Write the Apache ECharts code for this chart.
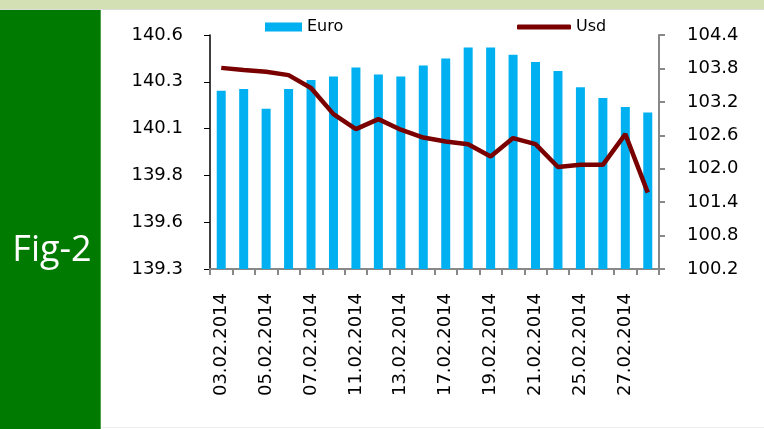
<!DOCTYPE html>
<html>
<head>
<meta charset="utf-8">
<script src="https://cdn.jsdelivr.net/npm/echarts@6/dist/echarts.min.js"></script>
<style>
  html, body { margin: 0; padding: 0; background: #fff; }
  #chart { width: 764px; height: 429px; }
</style>
</head>
<body>
<div id="chart"></div>
<script>
// trading days of February 2014
const dates = ['03.02.2014', '04.02.2014', '05.02.2014', '06.02.2014', '07.02.2014',
  '10.02.2014', '11.02.2014', '12.02.2014', '13.02.2014', '14.02.2014',
  '17.02.2014', '18.02.2014', '19.02.2014', '20.02.2014', '21.02.2014',
  '24.02.2014', '25.02.2014', '26.02.2014', '27.02.2014', '28.02.2014']
const euro = [140.29, 140.30, 140.19, 140.30, 140.35, 140.37, 140.42, 140.38, 140.37, 140.43,
  140.47, 140.53, 140.53, 140.49, 140.45, 140.40, 140.31, 140.25, 140.20, 140.17]
const usd = [103.81, 103.77, 103.74, 103.68, 103.45, 102.98, 102.71, 102.89, 102.70, 102.56,
  102.49, 102.44, 102.22, 102.55, 102.44, 102.03, 102.07, 102.07, 102.62, 101.57]

const chart = echarts.init(document.getElementById('chart'))
const font = 'DejaVu Sans, sans-serif'
const legendText = { fontFamily: font, fontSize: 16, color: '#000' }

chart.setOption({
  animation: false,
  backgroundColor: '#fff',
  graphic: [
    { type: 'rect', shape: { x: 0, y: 0, width: 764, height: 9 }, style: { fill: '#d3e0b4' } },
    { type: 'rect', shape: { x: 0, y: 9, width: 764, height: 1 }, style: { fill: '#dcdcdc' } },
    { type: 'rect', shape: { x: 0, y: 10, width: 101, height: 419 }, style: { fill: '#007a00' } },
    { type: 'rect', shape: { x: 100, y: 10, width: 1, height: 419 }, style: { fill: '#4ca04c' } },
    { type: 'rect', shape: { x: 101, y: 427, width: 663, height: 1 }, style: { fill: '#eeeeee' } },
    {
      type: 'text', x: 52, y: 251,
      style: {
        text: 'Fig-2', fill: '#fff', font: '36px "Open Sans", sans-serif',
        align: 'center', verticalAlign: 'middle'
      }
    }
  ],
  legend: [
    {
      top: 19, left: 265, padding: 0, itemWidth: 37, itemHeight: 9, itemGap: 5,
      textStyle: legendText,
      data: [{ name: 'Euro', icon: 'rect' }]
    },
    {
      top: 19, left: 517, padding: 0, itemWidth: 54, itemHeight: 5, itemGap: 5,
      textStyle: legendText,
      data: [{ name: 'Usd', icon: 'roundRect' }]
    }
  ],
  grid: { left: 210, right: 105, top: 35, bottom: 160 },
  xAxis: {
    type: 'category',
    data: dates,
    boundaryGap: true,
    axisLine: { lineStyle: { color: '#888', width: 2 } },
    axisTick: { show: true, length: 6, interval: 0, lineStyle: { color: '#888', width: 2 } },
    axisLabel: {
      interval: 1, rotate: 90, margin: 24,
      fontFamily: font, fontSize: 18, color: '#000'
    }
  },
  yAxis: [
    {
      type: 'value',
      min: 139.3, max: 140.6, interval: 0.26,
      splitLine: { show: false },
      axisLine: { show: true, lineStyle: { color: '#000', width: 1.5 } },
      axisTick: { show: true, length: 6, lineStyle: { color: '#000' } },
      axisLabel: {
        margin: 27, fontFamily: font, fontSize: 18, color: '#000',
        formatter: v => v.toFixed(1)
      }
    },
    {
      type: 'value',
      min: 100.2, max: 104.4, interval: 0.6,
      splitLine: { show: false },
      axisLine: { show: true, lineStyle: { color: '#888', width: 2 } },
      axisTick: { show: true, length: 6, lineStyle: { color: '#888', width: 2 } },
      axisLabel: {
        margin: 28, fontFamily: font, fontSize: 18, color: '#000',
        formatter: v => v.toFixed(1)
      }
    }
  ],
  series: [
    {
      name: 'Euro',
      type: 'bar',
      yAxisIndex: 0,
      data: euro,
      barWidth: 9,
      itemStyle: { color: '#00b0f0' }
    },
    {
      name: 'Usd',
      type: 'line',
      yAxisIndex: 1,
      data: usd,
      symbol: 'none',
      lineStyle: { color: '#7a0000', width: 4.5 },
      itemStyle: { color: '#7a0000' }
    }
  ]
})
</script>
</body>
</html>
